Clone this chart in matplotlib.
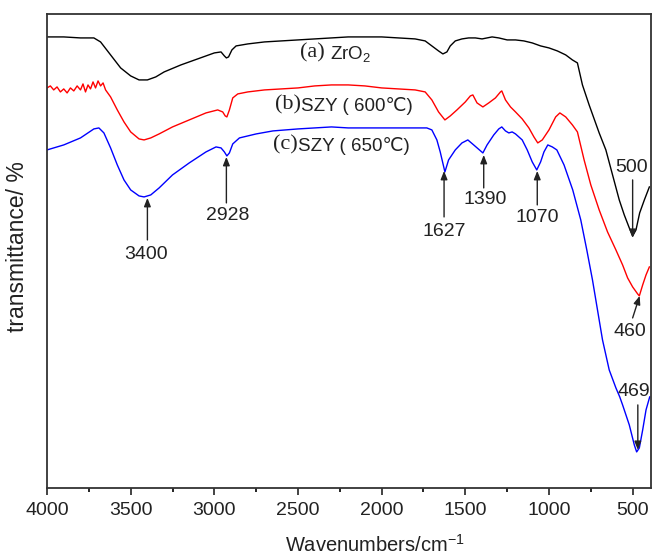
import matplotlib
matplotlib.use("Agg")
import matplotlib.pyplot as plt

plt.rcParams['font.family'] = ['Liberation Sans', 'DejaVu Sans']
plt.rcParams['mathtext.fontset'] = 'custom'
plt.rcParams['mathtext.rm'] = 'Liberation Sans'
plt.rcParams['mathtext.it'] = 'Liberation Sans:italic'

# FTIR spectra (wavenumber in cm-1, transmittance in arbitrary offset units)
wn_a = [4000, 3900, 3800, 3720, 3680, 3620, 3560, 3500, 3450, 3400, 3350, 3300, 3200,
        3100, 3000, 2960, 2940, 2928, 2915, 2895, 2870, 2800, 2700, 2500, 2400, 2300,
        2200, 2100, 2000, 1900, 1800, 1740, 1700, 1660, 1634, 1610, 1590, 1560, 1520,
        1480, 1440, 1400, 1340, 1300, 1250, 1200, 1150, 1100, 1050, 1000, 950, 900,
        860, 830, 800, 760, 700, 660, 620, 580, 550, 520, 500, 480, 458, 430, 400]
t_a = [451, 451, 450, 450, 446, 433, 420, 412, 408, 408, 411, 416, 423,
       429, 435, 436, 432, 430, 431, 438, 442, 444, 446, 448, 449, 450,
       451, 451, 451, 450, 449, 447, 442, 437, 434, 436, 442, 447, 449,
       450, 450, 449, 451, 450, 448, 448, 447, 445, 442, 440, 437, 433,
       428, 425, 403, 383, 355, 338, 313, 288, 273, 260, 252, 258, 275, 288, 301]

wn_b = [4000, 3980, 3960, 3940, 3920, 3900, 3880, 3860, 3840, 3820, 3800, 3785, 3770,
        3755, 3740, 3725, 3710, 3695, 3680, 3665, 3650, 3620, 3580, 3540, 3500, 3450,
        3420, 3380, 3330, 3250, 3150, 3050, 2980, 2950, 2935, 2925, 2910, 2890, 2860,
        2800, 2700, 2600, 2500, 2400, 2300, 2200, 2100, 2000, 1900, 1800, 1740, 1700,
        1660, 1622, 1590, 1550, 1500, 1470, 1455, 1430, 1395, 1360, 1320, 1290, 1282,
        1260, 1230, 1200, 1160, 1120, 1090, 1067, 1040, 1000, 960, 935, 900, 860, 830,
        790, 750, 700, 650, 600, 560, 530, 500, 470, 460, 440, 420, 400]
t_b = [400, 402, 398, 401, 396, 399, 395, 400, 397, 402, 398, 404, 396,
       403, 399, 406, 400, 407, 402, 405, 398, 391, 378, 366, 356, 349,
       348, 350, 354, 361, 368, 375, 378, 376, 372, 371, 378, 390, 394,
       396, 398, 399, 400, 402, 403, 403, 402, 400, 399, 398, 396, 388,
       376, 368, 372, 378, 386, 392, 393, 385, 381, 385, 390, 396, 397,
       388, 381, 376, 369, 360, 351, 345, 348, 358, 371, 375, 371, 363, 356,
       328, 303, 278, 256, 238, 223, 210, 201, 194, 192, 203, 213, 221]

wn_c = [4000, 3900, 3800, 3720, 3690, 3660, 3620, 3580, 3540, 3500, 3450, 3420, 3380,
        3330, 3250, 3150, 3050, 2990, 2960, 2940, 2925, 2910, 2890, 2850, 2750, 2650,
        2500, 2400, 2300, 2200, 2100, 2000, 1900, 1800, 1730, 1700, 1670, 1650, 1622,
        1600, 1560, 1520, 1485, 1450, 1395, 1370, 1330, 1300, 1282, 1260, 1240, 1220,
        1200, 1160, 1130, 1100, 1073, 1050, 1030, 1007, 980, 953, 910, 858, 810, 774,
        740, 700, 680, 640, 600, 577, 560, 520, 490, 476, 460, 440, 420, 398]
t_c = [338, 343, 350, 359, 360, 355, 340, 323, 308, 298, 292, 291, 293,
       300, 313, 325, 336, 341, 340, 336, 332, 335, 344, 350, 354, 357,
       359, 360, 361, 360, 360, 360, 360, 360, 360, 358, 348, 336, 316,
       328, 338, 345, 348, 343, 335, 343, 353, 359, 361, 357, 355, 356,
       354, 348, 338, 326, 318, 326, 336, 343, 341, 338, 323, 298, 268, 238,
       208, 168, 148, 118, 100, 91, 83, 63, 43, 36, 40, 58, 78, 91]

# peak annotations: label, arrow tip / tail, label position
peak_labels = ["3400", "2928", "1627", "1390", "1070", "500", "460", "469"]
peak_wn = [3400, 2928, 1627, 1390, 1070, 500, 458, 469]
peak_tail_wn = [3400, 2928, 1627, 1390, 1070, 500, 500, 469]
peak_tail_t = [248, 285, 271, 300, 283, 308, 170, 83]
peak_tip_t = [290, 331, 317, 333, 317, 250, 192, 38]
peak_text_wn = [3410, 2920, 1623, 1384, 1073, 506, 518, 490]
peak_text_t = [233, 272, 256, 288, 270, 320, 156, 96]

fig = plt.figure(figsize=(6.53, 5.57), dpi=100)
ax = fig.add_axes([0.072, 0.124, 0.925, 0.851])

ax.plot(wn_a, t_a, color='black', lw=1.0)
ax.plot(wn_b, t_b, color='red', lw=1.0)
ax.plot(wn_c, t_c, color='blue', lw=1.0)

ax.set_xlim(4000, 390)
ax.set_ylim(0, 474)
ax.set_xticks([4000, 3500, 3000, 2500, 2000, 1500, 1000, 500])
ax.set_xticks([3750, 3250, 2750, 2250, 1750, 1250, 750], minor=True)
ax.set_yticks([])
ax.tick_params(axis='x', which='major', direction='out', length=5, width=1.2,
               labelsize=14, colors='#222222', pad=5)
ax.tick_params(axis='x', which='minor', direction='out', length=3, width=1.2)
for s in ax.spines.values():
    s.set_linewidth(1.3)
    s.set_color('#333333')

ax.set_xlabel('Wavenumbers/cm$^{-1}$', fontsize=14.5, color='#222222')
ax.xaxis.set_label_coords(0.543, -0.098)
ax.set_ylabel('transmittance/ %', fontsize=16.5, color='#222222')
ax.yaxis.set_label_coords(-0.030, 0.51)

for lab, x, xt, yt, yp, tx, ty in zip(peak_labels, peak_wn, peak_tail_wn, peak_tail_t,
                                      peak_tip_t, peak_text_wn, peak_text_t):
    ax.annotate('', xy=(x, yp), xytext=(xt, yt),
                arrowprops=dict(arrowstyle='-|>,head_length=0.5,head_width=0.2',
                                color='#222222', lw=1.0, shrinkA=0, shrinkB=0))
    ax.text(tx, ty, lab, fontsize=14, ha='center', va='center', color='#222222')

# curve labels: serif letter in brackets followed by the sample name
curve_tags = ["(a)", "(b)", "(c)"]
curve_names = [" ZrO$_2$", "SZY ( 600\u2103)", "SZY ( 650\u2103)"]
tag_wn = [2489, 2638, 2650]
tag_t = [435, 383, 343]
for tag, name, x, y in zip(curve_tags, curve_names, tag_wn, tag_t):
    t1 = ax.text(x, y, tag, fontsize=16, family='Liberation Serif', ha='left',
                 va='center', color='#222222')
    ax.annotate(name, xy=(1, 0.45), xycoords=t1, ha='left', va='center',
                fontsize=13.5, family=['Liberation Sans', 'DejaVu Sans'], color='#222222')

fig.savefig('out.png', dpi=100)
